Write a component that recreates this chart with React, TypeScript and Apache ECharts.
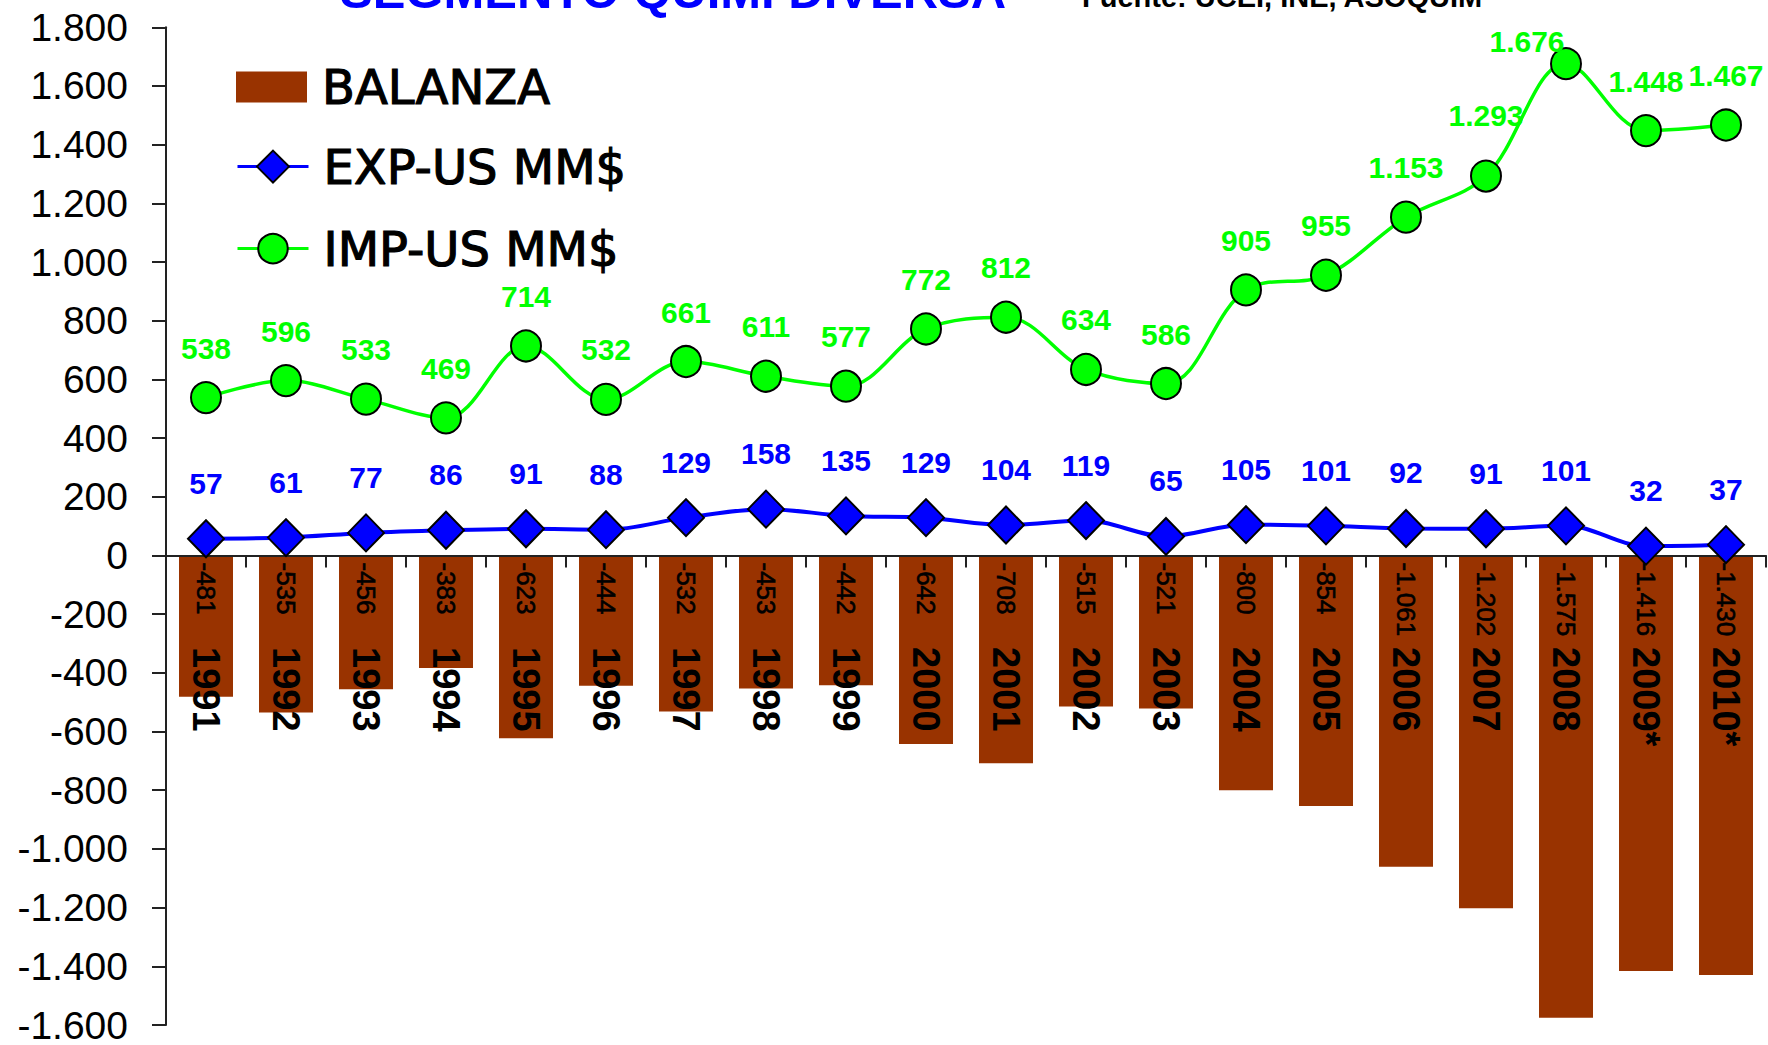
import React, { useEffect, useRef } from 'react';
import * as echarts from 'echarts';

const years = ['1991', '1992', '1993', '1994', '1995', '1996', '1997', '1998', '1999', '2000', '2001', '2002', '2003', '2004', '2005', '2006', '2007', '2008', '2009*', '2010*'];
const balanza = [-481, -535, -456, -383, -623, -444, -532, -453, -442, -642, -708, -515, -521, -800, -854, -1061, -1202, -1575, -1416, -1430];
const expUS = [57, 61, 77, 86, 91, 88, 129, 158, 135, 129, 104, 119, 65, 105, 101, 92, 91, 101, 32, 37];
const impUS = [538, 596, 533, 469, 714, 532, 661, 611, 577, 772, 812, 634, 586, 905, 955, 1153, 1293, 1676, 1448, 1467];

const seriesNames = ['BALANZA', 'EXP-US MM$', 'IMP-US MM$'];
const titleText = 'SEGMENTO QUIMI DIVERSA';
const sourceText = 'Fuente: UCEI, INE, ASOQUIM';

// label position tweaks (style only), by index
const impLabelOffsets: Record<number, [number, number]> = { 16: [0, -11], 17: [-39, 27] };

const fmt = (v: number) => {
  const s = Math.abs(v).toString().replace(/\B(?=(\d{3})+(?!\d))/g, '.');
  return (v < 0 ? '-' : '') + s;
};

const ARIAL = "'Liberation Sans', Arial, sans-serif";
const NARROW = "'Liberation Sans Narrow', 'Arial Narrow', 'Liberation Sans', sans-serif";
const LEGEND_FONT = "'DejaVu Sans', sans-serif";

export default function App() {
  const ref = useRef<HTMLDivElement>(null);
  useEffect(() => {
    document.body.style.margin = '0';
    const chart = echarts.init(ref.current!, null, { renderer: 'svg' });
    const axisLineStyle = { color: '#222', width: 2 };
    const legendText = {
      fontSize: 48, fontFamily: LEGEND_FONT, fontWeight: 'normal', color: '#000',
      textBorderColor: '#000', textBorderWidth: 1.2, padding: [0, 0, 0, 10],
    };
    chart.setOption({
      animation: false,
      backgroundColor: '#fff',
      graphic: [
        {
          type: 'text', x: 340, y: 15.5,
          style: { text: titleText, fill: '#0000ff', fontSize: 49, fontWeight: 'bold', fontFamily: ARIAL, verticalAlign: 'bottom' },
        },
        {
          type: 'text', x: 1082, y: 11.5,
          style: { text: sourceText, fill: '#000', fontSize: 29, fontWeight: 'bold', fontFamily: ARIAL, verticalAlign: 'bottom' },
        },
      ],
      legend: [
        { data: [seriesNames[0]], left: 236, top: 62.5, orient: 'vertical', itemWidth: 71, itemHeight: 31, padding: 0, selectedMode: false, icon: 'rect', textStyle: legendText },
        { data: [seriesNames[1]], left: 236, top: 142, orient: 'vertical', itemWidth: 71, itemHeight: 40, padding: 0, selectedMode: false, textStyle: legendText, lineStyle: { width: 3 } },
        { data: [seriesNames[2]], left: 236, top: 224, orient: 'vertical', itemWidth: 71, itemHeight: 37, padding: 0, selectedMode: false, textStyle: legendText, lineStyle: { width: 3 } },
      ],
      grid: { left: 166, right: 2, top: 27.3, bottom: 20, containLabel: false, outerBoundsMode: 'none' },
      xAxis: {
        type: 'category',
        data: years,
        z: 5,
        axisLine: { onZero: true, lineStyle: axisLineStyle },
        axisTick: { show: true, length: 12, lineStyle: axisLineStyle },
        axisLabel: { rotate: -90, margin: -378, fontSize: 38, fontWeight: 'bold', color: '#000', fontFamily: ARIAL, interval: 0, hideOverlap: false },
        splitLine: { show: false },
      },
      yAxis: {
        type: 'value',
        min: -1600,
        max: 1800,
        interval: 200,
        axisLine: { show: true, lineStyle: axisLineStyle },
        axisTick: { show: true, length: 14, lineStyle: axisLineStyle },
        splitLine: { show: false },
        axisLabel: { margin: 38, fontSize: 39, color: '#000', fontFamily: ARIAL, formatter: (v: number) => fmt(v) },
      },
      series: [
        {
          name: seriesNames[0],
          type: 'bar',
          data: balanza,
          barWidth: 54,
          z: 2,
          itemStyle: { color: '#993300' },
          label: {
            show: true, position: 'insideTop', distance: 7, rotate: -90, align: 'left', verticalAlign: 'middle',
            fontSize: 26, fontFamily: NARROW, color: '#000', textBorderColor: '#000', textBorderWidth: 0.6,
            formatter: (p: any) => fmt(p.value),
          },
        },
        {
          name: seriesNames[1],
          type: 'line',
          data: expUS,
          smooth: 0.35,
          z: 10,
          symbol: 'diamond',
          symbolSize: [36, 37],
          lineStyle: { color: '#0000ff', width: 4 },
          itemStyle: { color: '#0000ff', borderColor: '#000', borderWidth: 2 },
          label: { show: true, position: 'top', distance: 21, color: '#0000ff', fontSize: 30, fontWeight: 'bold', fontFamily: ARIAL, formatter: (p: any) => fmt(p.value) },
        },
        {
          name: seriesNames[2],
          type: 'line',
          data: impUS.map((v, i) => (impLabelOffsets[i] ? { value: v, label: { offset: impLabelOffsets[i] } } : v)),
          smooth: 0.35,
          z: 11,
          symbol: 'circle',
          symbolSize: [30, 31],
          lineStyle: { color: '#00ff00', width: 3.5 },
          itemStyle: { color: '#00ff00', borderColor: '#000', borderWidth: 2 },
          label: { show: true, position: 'top', distance: 18, color: '#00ff00', fontSize: 30, fontWeight: 'bold', fontFamily: ARIAL, formatter: (p: any) => fmt(p.value) },
        },
      ],
    });
    return () => chart.dispose();
  }, []);
  return <div ref={ref} style={{ position: 'absolute', left: 0, top: 0, width: 1768, height: 1045 }} />;
}
